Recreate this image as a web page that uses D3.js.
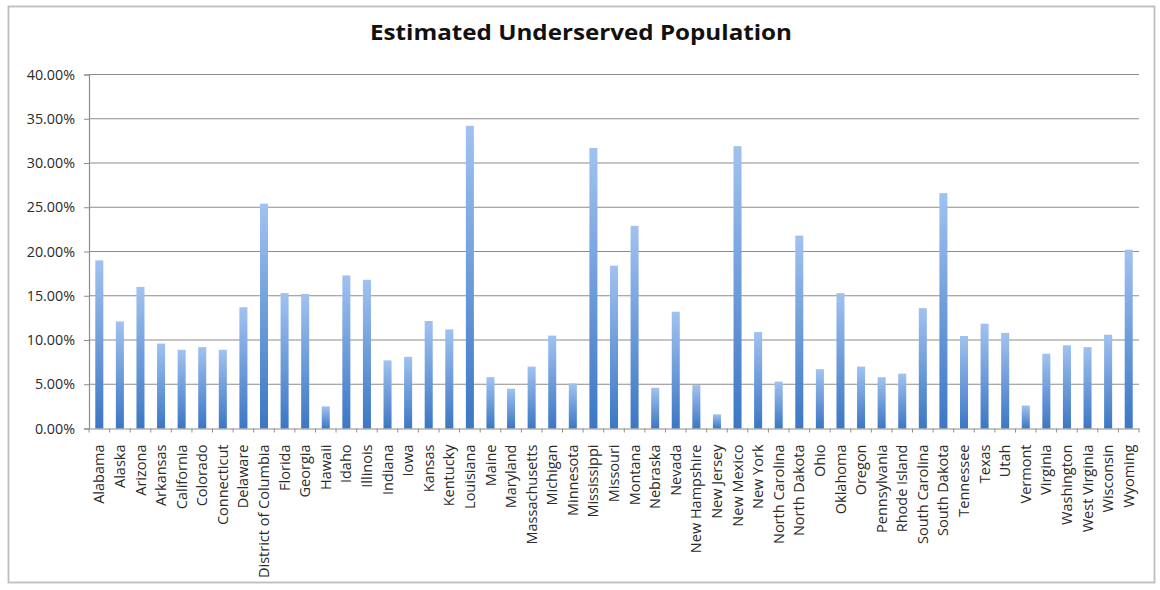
<!DOCTYPE html>
<html>
<head>
<meta charset="utf-8">
<script src="https://cdn.jsdelivr.net/npm/d3@7"></script>
<style>
  html, body { margin: 0; padding: 0; background: #fff; }
  svg { display: block; }
</style>
</head>
<body>
<svg id="chart" width="1160" height="590"></svg>
<script>
const title = "Estimated Underserved Population";
const states = ["Alabama","Alaska","Arizona","Arkansas","California","Colorado","Connecticut","Delaware","District of Columbia","Florida","Georgia","Hawaii","Idaho","Illinois","Indiana","Iowa","Kansas","Kentucky","Louisiana","Maine","Maryland","Massachusetts","Michigan","Minnesota","Mississippi","Missouri","Montana","Nebraska","Nevada","New Hampshire","New Jersey","New Mexico","New York","North Carolina","North Dakota","Ohio","Oklahoma","Oregon","Pennsylvania","Rhode Island","South Carolina","South Dakota","Tennessee","Texas","Utah","Vermont","Virginia","Washington","West Virginia","Wisconsin","Wyoming"];
const values = [0.190,0.121,0.160,0.096,0.089,0.092,0.089,0.137,0.254,0.153,0.152,0.025,0.173,0.168,0.077,0.081,0.1215,0.112,0.342,0.058,0.045,0.070,0.105,0.051,0.317,0.184,0.229,0.046,0.132,0.049,0.016,0.319,0.109,0.053,0.218,0.067,0.153,0.070,0.058,0.062,0.136,0.266,0.1045,0.1185,0.108,0.026,0.0845,0.094,0.092,0.106,0.202];
const yTicks = [0,0.05,0.10,0.15,0.20,0.25,0.30,0.35,0.40];

const svg = d3.select("#chart");
const m = { left: 89, right: 1139, top: 74.5, bottom: 428.5 };

// outer border
svg.append("rect").attr("x", 8.5).attr("y", 6.5).attr("width", 1146).attr("height", 576)
  .attr("fill", "#fff").attr("stroke", "#bdbdbd").attr("stroke-width", 1.8);

const x = d3.scaleBand().domain(states).range([m.left, m.right]).paddingInner(0.61).paddingOuter(0.305);
const y = d3.scaleLinear().domain([0, 0.40]).range([m.bottom, m.top]);

const defs = svg.append("defs");
const grad = defs.append("linearGradient").attr("id", "barGrad").attr("x1", 0).attr("y1", 0).attr("x2", 0).attr("y2", 1);
grad.append("stop").attr("offset", "0%").attr("stop-color", "#a1c2f0");
grad.append("stop").attr("offset", "100%").attr("stop-color", "#3b77c4");

// gridlines
svg.append("g").selectAll("line").data(yTicks.filter(d => d > 0)).join("line")
  .attr("x1", m.left).attr("x2", m.right)
  .attr("y1", d => y(d)).attr("y2", d => y(d))
  .attr("stroke", "#8c8c8c").attr("stroke-width", 1.2);

// bars
svg.append("g").selectAll("rect").data(values).join("rect")
  .attr("x", (d, i) => x(states[i]))
  .attr("width", x.bandwidth())
  .attr("y", d => y(d))
  .attr("height", d => y(0) - y(d))
  .attr("fill", "url(#barGrad)");

// y axis
const yAxis = d3.axisLeft(y).tickValues(yTicks).tickFormat(d3.format(".2%")).tickSize(5).tickPadding(9);
const gy = svg.append("g").attr("transform", `translate(${m.left},0)`).call(yAxis);
gy.select(".domain").attr("stroke", "#8c8c8c").attr("stroke-width", 1.2);
gy.selectAll(".tick line").attr("stroke", "#8c8c8c");
gy.selectAll("text").attr("font-family", "'Open Sans', sans-serif").attr("font-size", 14.3).attr("fill", "#2a2a2a");

// x axis
const xAxis = d3.axisBottom(x).tickSize(0).tickPadding(0);
const gx = svg.append("g").attr("transform", `translate(0,${m.bottom})`).call(xAxis);
gx.select(".domain").attr("stroke", "#8c8c8c").attr("stroke-width", 1.2);
gx.selectAll(".tick text")
  .attr("font-family", "'Open Sans', sans-serif").attr("font-size", 14.5).attr("fill", "#2a2a2a")
  .attr("text-anchor", "end").attr("dy", "0.35em")
  .attr("transform", "translate(0,16) rotate(-90)")
  .attr("x", 0).attr("y", 0);
// boundary tick marks
const boundaries = d3.range(states.length + 1);
gx.append("g").selectAll("line").data(boundaries).join("line")
  .attr("x1", i => m.left + (m.right - m.left) * i / states.length)
  .attr("x2", i => m.left + (m.right - m.left) * i / states.length)
  .attr("y1", 0).attr("y2", 4)
  .attr("stroke", "#9a8c7c");

// title
svg.append("text").attr("x", 581).attr("y", 40).attr("text-anchor", "middle")
  .attr("font-family", "'Open Sans', sans-serif").attr("font-weight", "bold").attr("font-size", 21)
  .attr("textLength", 422).attr("lengthAdjust", "spacingAndGlyphs")
  .attr("fill", "#111").text(title);
</script>
</body>
</html>
